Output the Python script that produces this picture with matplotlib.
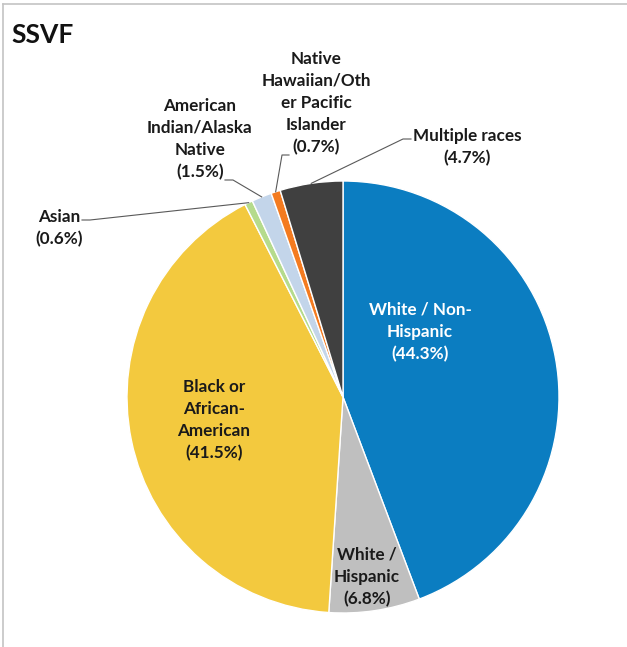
import numpy as np
import matplotlib.pyplot as plt

plt.rcParams["font.family"] = ["Lato", "DejaVu Sans"]

labels = [
    "White / Non-\nHispanic",
    "White /\nHispanic",
    "Black or\nAfrican-\nAmerican",
    "Asian",
    "American\nIndian/Alaska\nNative",
    "Native\nHawaiian/Oth\ner Pacific\nIslander",
    "Multiple races",
]
shares = [44.3, 6.8, 41.5, 0.6, 1.5, 0.7, 4.7]
colors = ["#0B7DC1", "#BFBFBF", "#F3C93E", "#B5DB8C", "#C3D5EA", "#F47B20", "#404040"]

# pie placement in pixel coordinates (y grows downward)
cx, cy, r = 343, 397, 216

# label anchors (pixels)
label_pos = [(420, 332), (367, 577), (214, 420), (59, 228), (200, 139), (316, 103), (467, 147)]
text_col = ["white"] + ["#1a1a1a"] * 6
# leader lines start at the label, run a short horizontal, then go to the slice
leader_start = {3: [(82, 220), (90, 220)],
                4: [(225, 180), (233, 180)],
                5: [(289, 155), (282, 155)],
                6: [(411, 139), (403, 139)]}

fig = plt.figure(figsize=(6.27, 6.47), dpi=100)
ax = fig.add_axes([0, 0, 1, 1])

wedges, _ = ax.pie(shares, colors=colors, center=(cx, cy), radius=r,
                   startangle=-90, counterclock=True,
                   wedgeprops=dict(edgecolor="white", linewidth=1.0))
ax.set_xlim(0, 627)
ax.set_ylim(647, 0)
ax.set_aspect("auto")
ax.axis("off")

for i, w in enumerate(wedges):
    x, y = label_pos[i]
    txt = f"{labels[i]}\n({shares[i]}%)"
    ax.text(x, y, txt, ha="center", va="center", fontsize=12.3, fontweight="bold",
            color=text_col[i], linespacing=1.45)
    if i in leader_start:
        mid = np.deg2rad((w.theta1 + w.theta2) / 2)
        px = cx + r * np.cos(mid)
        py = cy + r * np.sin(mid)
        pts = leader_start[i] + [(px, py)]
        ax.plot([p[0] for p in pts], [p[1] for p in pts], color="#595959", lw=0.8)

ax.text(11, 35, "SSVF", ha="left", va="center", fontsize=19, fontweight="bold", color="#111111")

# frame lines along the top and left edge
ax.plot([3, 627], [4, 4], color="#c4c4c4", lw=1.2)
ax.plot([3, 3], [4, 647], color="#c4c4c4", lw=1.2)

fig.savefig("out.png", dpi=100)
